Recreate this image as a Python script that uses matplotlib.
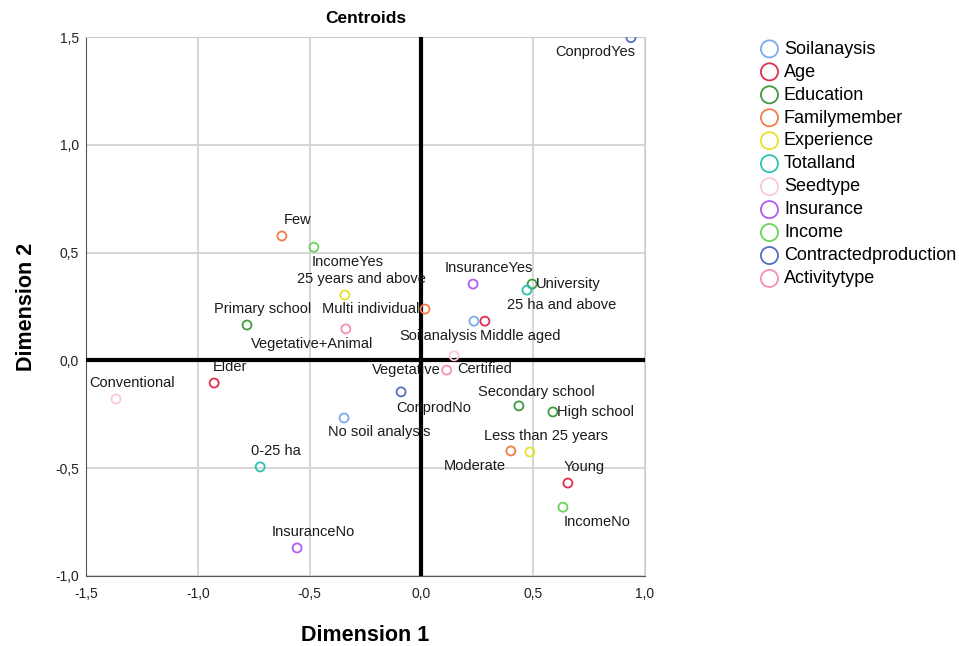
import numpy as np
import matplotlib.pyplot as plt
from matplotlib.ticker import FuncFormatter

plt.rcParams['font.family'] = ['Liberation Sans', 'DejaVu Sans']

# centroid coordinates per variable: (label, dim1, dim2)
groups = ["Soilanaysis", "Age", "Education", "Familymember", "Experience",
          "Totalland", "Seedtype", "Insurance", "Income",
          "Contractedproduction", "Activitytype"]

colors = ["#7aaaf0", "#e0304e", "#3f9a44", "#f47c4a", "#e8e030",
          "#2cc4b0", "#fcc8da", "#b25cf2", "#6cd45a", "#5470c0", "#f490b8"]

soil_lab = ["Soilanalysis", "No soil analysis"]
soil_x = [0.235, -0.346]
soil_y = [0.182, -0.267]

age_lab = ["Elder", "Middle aged", "Young"]
age_x = [-0.927, 0.284, 0.655]
age_y = [-0.105, 0.182, -0.569]

edu_lab = ["Primary school", "Secondary school", "High school", "University"]
edu_x = [-0.78, 0.436, 0.588, 0.495]
edu_y = [0.164, -0.211, -0.239, 0.354]

fam_lab = ["Few", "Multi individual", "Moderate"]
fam_x = [-0.624, 0.016, 0.40]
fam_y = [0.577, 0.238, -0.42]

exp_lab = ["25 years and above", "Less than 25 years"]
exp_x = [-0.342, 0.485]
exp_y = [0.303, -0.425]

land_lab = ["0-25 ha", "25 ha and above"]
land_x = [-0.721, 0.472]
land_y = [-0.494, 0.326]

seed_lab = ["Conventional", "Certified"]
seed_x = [-1.366, 0.146]
seed_y = [-0.179, 0.021]

ins_lab = ["InsuranceYes", "InsuranceNo"]
ins_x = [0.231, -0.556]
ins_y = [0.354, -0.870]

inc_lab = ["IncomeYes", "IncomeNo"]
inc_x = [-0.481, 0.633]
inc_y = [0.525, -0.681]

con_lab = ["ConprodYes", "ConprodNo"]
con_x = [0.937, -0.091]
con_y = [1.497, -0.146]

act_lab = ["Vegetative", "Vegetative+Animal"]
act_x = [0.113, -0.338]
act_y = [-0.045, 0.146]

series = [(soil_lab, soil_x, soil_y), (age_lab, age_x, age_y),
          (edu_lab, edu_x, edu_y), (fam_lab, fam_x, fam_y),
          (exp_lab, exp_x, exp_y), (land_lab, land_x, land_y),
          (seed_lab, seed_x, seed_y), (ins_lab, ins_x, ins_y),
          (inc_lab, inc_x, inc_y), (con_lab, con_x, con_y),
          (act_lab, act_x, act_y)]

# label placement in pixels (dx, dy, ha); dy positive = up
UL = (16, 16, "center")
LR = (34, -15, "center")
offsets = {
    "ConprodYes": (-36, -14, "center"),
    "Few": UL, "IncomeYes": LR, "25 years and above": UL,
    "Multi individual": (-6, 0, "right"), "Primary school": UL,
    "Vegetative+Animal": (-34, -15, "center"), "InsuranceYes": UL,
    "University": (4, 0, "left"), "25 ha and above": (35, -15, "center"),
    "Soilanalysis": (-36, -15, "center"), "Middle aged": (35, -15, "center"),
    "Certified": (31, -13, "center"), "Vegetative": (-6, 0, "right"),
    "ConprodNo": (33, -16, "center"), "No soil analysis": (35, -14, "center"),
    "Elder": UL, "Conventional": UL, "0-25 ha": UL, "InsuranceNo": UL,
    "Secondary school": (17, 14, "center"), "High school": (4, 0, "left"),
    "Less than 25 years": UL, "Moderate": (-36, -15, "center"),
    "Young": UL, "IncomeNo": LR,
}

fig = plt.figure(figsize=(9.59, 6.46), dpi=100)
ax = fig.add_axes([0.0897, 0.1084, 0.5829, 0.8343])

for (labs, xs, ys), g, c in zip(series, groups, colors):
    ax.scatter(xs, ys, s=42, facecolors="none", edgecolors=c, linewidths=1.3,
               label=g, zorder=4)
    for lab, x, y in zip(labs, xs, ys):
        dx, dy, ha = offsets[lab]
        ax.annotate(lab, (x, y), xytext=(dx, dy), textcoords="offset pixels",
                    ha=ha, va="center", fontsize=10.5, color="#1a1a1a", zorder=5)

ax.axhline(0, color="black", lw=3, zorder=3)
ax.axvline(0, color="black", lw=3, zorder=3)

ax.set_xlim(-1.5, 1.0)
ax.set_ylim(-1.0, 1.5)
ax.set_xticks(np.arange(-1.5, 1.01, 0.5))
ax.set_yticks(np.arange(-1.0, 1.51, 0.5))
fmt = FuncFormatter(lambda v, p: ("%.1f" % v).replace(".", ","))
ax.xaxis.set_major_formatter(fmt)
ax.yaxis.set_major_formatter(fmt)
ax.tick_params(length=0, labelsize=10, colors="#222222")
ax.tick_params(axis="x", pad=8)
ax.tick_params(axis="y", pad=5)
ax.grid(True, color="#d0d0d0", lw=1.2, zorder=1)

for s in ["top", "right"]:
    ax.spines[s].set_color("#cccccc")
for s in ["left", "bottom"]:
    ax.spines[s].set_color("#555555")

ax.set_title("Centroids", fontsize=12.5, fontweight="bold", pad=10)
ax.set_xlabel("Dimension 1", fontsize=15.5, fontweight="bold", labelpad=17)
ax.set_ylabel("Dimension 2", fontsize=15.5, fontweight="bold", labelpad=13)

leg = ax.legend(loc="upper left", bbox_to_anchor=(1.2, 1.0), frameon=False,
                fontsize=13, handlelength=1.0, handletextpad=0.3,
                labelspacing=0.33, markerscale=1.9, borderaxespad=0,
                borderpad=0.2)

fig.savefig("out.png", dpi=100)
